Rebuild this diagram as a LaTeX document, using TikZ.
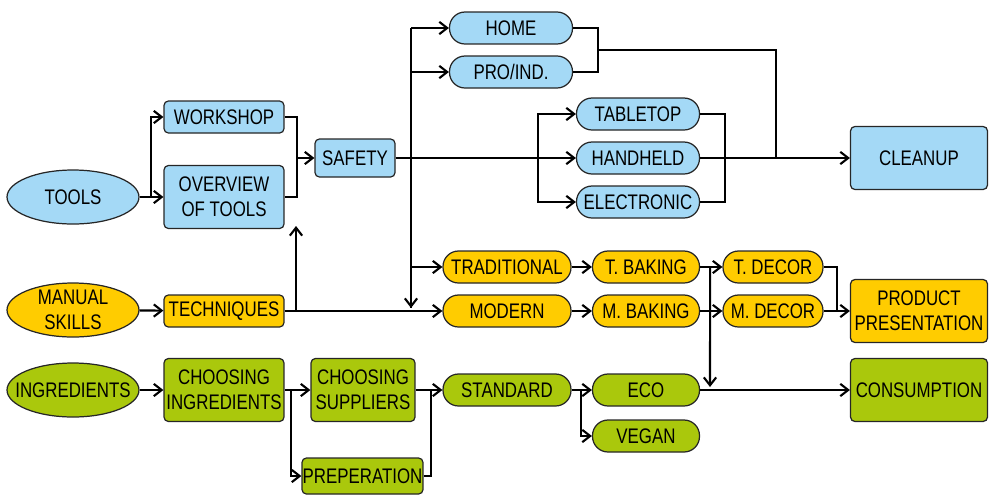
\documentclass[tikz,border=0pt]{standalone}
\usepackage{fontspec}
\setmainfont[FakeStretch=0.8]{Liberation Sans}
\usetikzlibrary{shapes.geometric,arrows.meta}

\definecolor{toolblue}{RGB}{164,217,246}
\definecolor{skillyellow}{RGB}{255,204,0}
\definecolor{ingredgreen}{RGB}{170,200,12}

\begin{document}
\begin{tikzpicture}[x=0.02cm,y=-0.02cm,
  every node/.style={font=\fontsize{12}{14.2}\selectfont, align=center, inner sep=0pt},
  line/.style={line width=1.2pt},
  >={Straight Barb[length=4.5pt,width=7pt,line width=1.2pt]},
  blob/.style={ellipse, draw=black!85, line width=0.7pt, inner xsep=-14pt, inner ysep=-6pt,
    minimum width=2.64cm, minimum height=1.08cm},
  box/.style={rectangle, draw=black!85, line width=0.7pt, rounded corners=2.5pt, minimum height=0.64cm},
  pill/.style={rectangle, draw=black!85, line width=0.7pt, rounded corners=0.31cm, minimum height=0.64cm},
  tall/.style={minimum height=1.26cm}]
\useasboundingbox (0,0) rectangle (989,494);

% tools
\path (73,197) node[blob,fill=toolblue] (tools) {TOOLS};
\path (224,117) node[box,fill=toolblue,minimum width=2.4cm] (workshop) {WORKSHOP};
\path (224,197) node[box,tall,fill=toolblue,minimum width=2.4cm] (overview) {OVERVIEW\\OF TOOLS};
\path (355,158) node[box,fill=toolblue,minimum width=1.6cm,minimum height=0.76cm] (safety) {SAFETY};
\path (511,28) node[pill,fill=toolblue,minimum width=2.46cm] (home) {HOME};
\path (511,72) node[pill,fill=toolblue,minimum width=2.46cm] (proind) {PRO/IND.};
\path (638,114) node[pill,fill=toolblue,minimum width=2.46cm] (tabletop) {TABLETOP};
\path (638,158) node[pill,fill=toolblue,minimum width=2.46cm] (handheld) {HANDHELD};
\path (638,202) node[pill,fill=toolblue,minimum width=2.46cm] (electronic) {ELECTRONIC};
\path (919,158) node[box,tall,fill=toolblue,minimum width=2.74cm] (cleanup) {CLEANUP};

% manual skills
\path (73,310) node[blob,fill=skillyellow] (skills) {MANUAL\\SKILLS};
\path (224,311) node[box,fill=skillyellow,minimum width=2.4cm] (techniques) {TECHNIQUES};
\path (507,267) node[pill,fill=skillyellow,minimum width=2.56cm] (traditional) {TRADITIONAL};
\path (507,311) node[pill,fill=skillyellow,minimum width=2.56cm] (modern) {MODERN};
\path (646,267) node[pill,fill=skillyellow,minimum width=2.14cm] (tbaking) {T. BAKING};
\path (646,311) node[pill,fill=skillyellow,minimum width=2.14cm] (mbaking) {M. BAKING};
\path (773,267) node[pill,fill=skillyellow,minimum width=2.0cm] (tdecor) {T. DECOR};
\path (773,311) node[pill,fill=skillyellow,minimum width=2.0cm] (mdecor) {M. DECOR};
\path (919,311) node[box,tall,fill=skillyellow,minimum width=2.74cm] (product) {PRODUCT\\PRESENTATION};

% ingredients
\path (73,390) node[blob,fill=ingredgreen] (ingredients) {INGREDIENTS};
\path (224,390) node[box,tall,fill=ingredgreen,minimum width=2.4cm] (choosing) {CHOOSING\\INGREDIENTS};
\path (363,390) node[box,tall,fill=ingredgreen,minimum width=2.08cm] (suppliers) {CHOOSING\\SUPPLIERS};
\path (362.5,476) node[box,fill=ingredgreen,minimum width=2.42cm,minimum height=0.72cm] (preparation) {PREPERATION};
\path (507,390) node[pill,fill=ingredgreen,minimum width=2.56cm] (standard) {STANDARD};
\path (646,390) node[pill,fill=ingredgreen,minimum width=2.14cm] (eco) {ECO};
\path (646,436) node[pill,fill=ingredgreen,minimum width=2.14cm] (vegan) {VEGAN};
\path (919,390) node[box,tall,fill=ingredgreen,minimum width=2.74cm] (consumption) {CONSUMPTION};

% junction points
\coordinate (techup) at (296,226);
\coordinate (sbus) at (411,158);
\coordinate (mdrop) at (411,308);
\coordinate (hbus) at (538,158);
\coordinate (cjoin) at (776,158);
\coordinate (edrop) at (710,387);

% tools flow
\draw[line,->] (tools) -- (overview);
\draw[line,->] (tools.east) -- ++(11,0) |- (workshop);
\draw[line] (workshop.east) -- ++(12,0) |- (overview.east);
\draw[line,->] (workshop.east) ++(12,0) |- (safety);
\draw[line,->] (safety) -- (handheld);
\draw[line,->] (sbus |- home) -- (home);
\draw[line] (sbus |- home) -- (mdrop);
\draw[line,->] (sbus) -- (mdrop);
\draw[line,->] (sbus) |- (proind);
\draw[line,->] (sbus) |- (traditional);
\draw[line,->] (hbus) |- (tabletop);
\draw[line,->] (hbus) |- (electronic);
\draw[line] (home.east) -- ++(25,0) |- (proind.east);
\draw[line] (home.east) ++(25,0) -- ++(0,22) -| (cjoin);
\draw[line] (tabletop.east) -- ++(25,0) |- (electronic.east);
\draw[line,->] (handheld) -- (cleanup);

% skills flow
\draw[line,->] (skills) -- (techniques);
\draw[line,->] (techniques.east) -| (techup);
\draw[line,->] (techniques) -- (modern);
\draw[line,->] (traditional) -- (tbaking);
\draw[line,->] (modern) -- (mbaking);
\draw[line,->] (tbaking) -- (tdecor);
\draw[line,->] (mbaking) -- (mdecor);
\draw[line,->] (tbaking.east) ++(10,0) -- (edrop);
\draw[line] (tdecor.east) -- ++(13,0) |- (mdecor.east);
\draw[line,->] (mdecor) -- (product);

% ingredients flow
\draw[line,->] (ingredients) -- (choosing);
\draw[line,->] (choosing) -- (suppliers);
\draw[line,->] (choosing.east) ++(6,0) |- (preparation);
\draw[line,->] (suppliers) -- (standard);
\draw[line] (preparation.east) -- ++(7,0) coordinate (pj) -- (pj |- standard);
\draw[line,->] (standard) -- (eco);
\draw[line,->] (standard.east) ++(9,0) |- (vegan);
\draw[line,->] (eco) -- (consumption);
\end{tikzpicture}
\end{document}
